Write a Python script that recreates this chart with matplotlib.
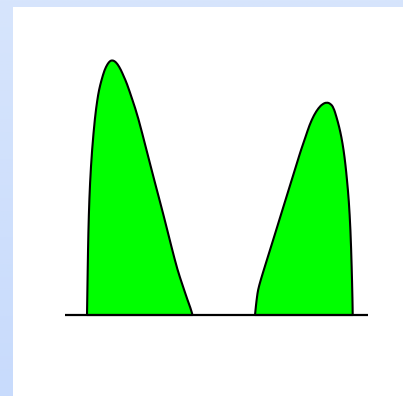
import numpy as np
import matplotlib.pyplot as plt
from matplotlib.colors import LinearSegmentedColormap
from matplotlib.path import Path
from matplotlib.patches import PathPatch

# outline of the two humps: x position and height above the baseline
left_x = [87, 87.4, 88, 88.8, 90, 92, 95, 97.3, 99, 101.5, 104.5,
          107.5, 110, 112, 114.5, 117.5, 121, 124, 126.7, 132.5, 138,
          146.5, 155, 163, 171.5, 177.5, 182.5, 187.5, 190.5, 192.5]
left_h = [0, 25, 65, 100, 132, 165, 198, 215, 225, 235, 245,
          251, 254, 254.7, 254, 251, 245, 238, 232, 215, 198,
          165, 132, 102, 68, 45, 30, 15, 7, 0]

right_x = [255, 256, 257, 258, 260.7, 264.7, 270, 275.3, 279.3, 285.5,
           291.7, 297.9, 301, 305.5, 309.5, 314, 318.5, 322.5, 326.7,
           330.5, 333.5, 336.5, 339.2, 341.4, 343.6, 345.5, 347, 348.8,
           350.5, 351.7, 352.5, 352.7]
right_h = [0, 10, 18, 25, 35, 48, 65, 82, 95, 115,
           135, 155, 165, 178, 190, 200, 207, 211, 212.7,
           211.3, 207.5, 198, 188, 178, 165, 150, 135, 115,
           85, 48, 15, 0]

base_x = [65, 368]
base_h = [0, 0]


def hump(xs, hs):
    # quadratic curve segments through the midpoints of the outline points
    verts = [(xs[0], hs[0])]
    codes = [Path.MOVETO]
    for i in range(1, len(xs) - 1):
        mx = (xs[i] + xs[i + 1]) / 2
        mh = (hs[i] + hs[i + 1]) / 2
        verts += [(xs[i], hs[i]), (mx, mh)]
        codes += [Path.CURVE3, Path.CURVE3]
    verts += [(xs[-1], hs[-1]), (xs[0], hs[0])]
    codes += [Path.LINETO, Path.CLOSEPOLY]
    return PathPatch(Path(verts, codes), facecolor='#00ff00',
                     edgecolor='black', linewidth=1.5, joinstyle='round')


fig = plt.figure(figsize=(4.03, 3.96), dpi=100)

# pale blue backdrop, slightly darker towards the bottom
bg = fig.add_axes([0, 0, 1, 1])
cmap = LinearSegmentedColormap.from_list('bg', ['#d7e5fc', '#c8dbfc'])
bg.imshow(np.linspace(0, 1, 256).reshape(-1, 1), cmap=cmap, aspect='auto',
          extent=[0, 1, 0, 1])
bg.set_axis_off()

# white panel
W, H = 403, 396
ax = fig.add_axes([13 / W, 0, 1 - 13 / W, 1 - 7 / H])
ax.set_facecolor('white')
ax.set_xlim(13, 403)
ax.set_ylim(-81, 308)
for s in ax.spines.values():
    s.set_visible(False)
ax.set_xticks([])
ax.set_yticks([])

ax.add_patch(hump(left_x, left_h))
ax.add_patch(hump(right_x, right_h))
ax.plot(base_x, base_h, color='black', linewidth=1.6, solid_capstyle='butt')

fig.savefig('out.png', dpi=100)
